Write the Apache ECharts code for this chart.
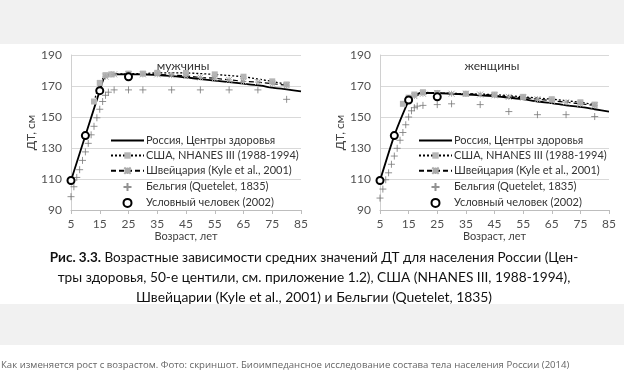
<!DOCTYPE html>
<html><head><meta charset="utf-8">
<script src="https://cdn.jsdelivr.net/npm/echarts@6/dist/echarts.min.js"></script>
<style>html,body{margin:0;padding:0;background:#fff}#c{width:624px;height:372px}</style>
</head><body><div id="c"></div>
<script>
// ---- data (age, ДТ cm) ----
const xTicks = [5, 15, 25, 35, 45, 55, 65, 75, 85];
const yTicks = [90, 110, 130, 150, 170, 190];
const seriesNames = ['Россия, Центры здоровья', 'США, NHANES III (1988-1994)', 'Швейцария (Kyle et al., 2001)', 'Бельгия (Quetelet, 1835)', 'Условный человек (2002)'];

const menRussia = [[5,109],[10,138],[15,167],[16,173],[17,177],[18,177.5],[20,177.5],[25,177.5],[30,177.5],[35,177],[40,176.5],[45,175.5],[50,174.5],[55,173.5],[60,172.5],[65,171.5],[70,170.5],[75,169],[80,167.8],[85,166.5]];
const menUSA = [[13,160],[15,172],[17,177],[19,177.5],[25,178],[30,178],[35,178.5],[45,178.5],[55,177.5],[65,176],[75,173],[80,171]];
const menSwiss = [[17,176],[20,177.5],[25,177.5],[30,177.5],[35,177.5],[40,177],[45,176.5],[50,175.5],[55,175],[60,174],[65,173],[70,172.5],[75,171.5],[80,170.5]];
const menBelgium = [[5,98.6],[6,105],[7,111],[8,116],[9,122],[10,127.5],[11,133],[12,138.5],[13,144],[14,149.5],[15,155],[16,160],[17,164],[18,166],[20,167.5],[25,167.5],[30,167.5],[40,167.5],[50,167.5],[60,167.5],[70,167.5],[80,161.4]];
const menRef = [[5,109],[10,138],[15,167],[25,176]];

const womenRussia = [[5,109],[10,138],[15,160.5],[16,163],[18,165],[20,165.5],[25,165.5],[30,165],[35,164.5],[40,164],[45,163.5],[50,162.5],[55,161.5],[60,160],[65,159],[70,157.5],[75,156.5],[80,155],[85,153.5]];
const womenUSA = [[13,158.5],[15,162.5],[17,164.5],[20,166],[25,165.5],[35,165],[45,164.5],[55,163],[65,161.5],[75,159.5],[80,158]];
const womenSwiss = [[17,163.5],[20,165],[25,165.5],[30,165],[35,165],[40,164.5],[45,164],[50,163],[55,162.5],[60,161.5],[65,160.5],[70,159.5],[75,158.5],[80,157.5]];
const womenBelgium = [[5,97.7],[6,103.5],[7,109.5],[8,114],[9,119.5],[10,124.8],[11,129.8],[12,135],[13,140],[14,145],[15,150],[16,154],[17,156],[18,157],[20,157.5],[25,158],[30,158.5],[40,158],[50,153.5],[60,151.5],[70,151.5],[80,150.3]];
const womenRef = [[5,109],[10,138],[15,161],[25,163]];

const panelTitles = ['мужчины', 'женщины'];
const axisNameX = 'Возраст, лет';
const axisNameY = 'ДТ, см';
const captionBold = 'Рис. 3.3.';
const captionLines = [' Возрастные зависимости средних значений ДТ для населения России (Цен-',
  'тры здоровья, 50-е центили, см. приложение 1.2), США (NHANES III, 1988-1994),',
  'Швейцарии (Kyle et al., 2001) и Бельгии (Quetelet, 1835)'];
const photoCaption = 'Как изменяется рост с возрастом. Фото: скриншот. Биоимпедансное исследование состава тела населения России (2014)';

// ---- chart ----
const FONT = 'Lato, "Open Sans", sans-serif';
const starPath = 'path://M0,0L10,10M10,0L0,10M5,0L5,10M0,5L10,5';
const plusPath = 'path://M5,0L5,10M0,5L10,5';

function panelSeries(i, ru, us, sw, be, ref) {
  return [
    {name: seriesNames[0], type: 'line', xAxisIndex: i, yAxisIndex: i, data: ru, showSymbol: false, symbol: 'none', smooth: 0.2,
      lineStyle: {color: '#000', width: 1.8}, itemStyle: {color: '#000'}, z: 3},
    {name: seriesNames[1], type: 'line', xAxisIndex: i, yAxisIndex: i, data: us, symbol: 'rect', symbolSize: 6,
      lineStyle: {color: '#000', width: 1.3, type: [2, 2]}, itemStyle: {color: '#b5b5b5'}, z: 4},
    {name: seriesNames[2], type: 'line', xAxisIndex: i, yAxisIndex: i, data: sw, symbol: starPath, symbolSize: 6,
      lineStyle: {color: '#000', width: 1.2, type: [5, 3]}, itemStyle: {color: 'none', borderColor: '#aaa', borderWidth: 1}, z: 4},
    {name: seriesNames[3], type: 'scatter', xAxisIndex: i, yAxisIndex: i, data: be, symbol: plusPath, symbolSize: 7,
      itemStyle: {color: 'none', borderColor: '#777', borderWidth: 1}, z: 2},
    {name: seriesNames[4], type: 'scatter', xAxisIndex: i, yAxisIndex: i, data: ref, symbol: 'circle', symbolSize: 7,
      itemStyle: {color: '#ffffff', borderColor: '#000000', borderWidth: 2, opacity: 1}, z: 6}
  ];
}

function xAxis(i) {
  return {type: 'value', gridIndex: i, min: xTicks[0], max: xTicks[xTicks.length - 1], interval: 10,
    name: axisNameX, nameLocation: 'middle', nameGap: 19, nameTextStyle: {fontFamily: FONT, fontSize: 11, color: '#404040'},
    axisLine: {show: true, lineStyle: {color: '#bdbdbd', width: 1}},
    axisTick: {show: true, length: 4, lineStyle: {color: '#bdbdbd'}},
    axisLabel: {fontFamily: FONT, fontSize: 12, color: '#505050', margin: 8},
    splitLine: {show: false}};
}
function yAxis(i) {
  return {type: 'value', gridIndex: i, min: yTicks[0], max: yTicks[yTicks.length - 1], interval: 20,
    name: axisNameY, nameLocation: 'middle', nameGap: 32, nameRotate: 90, nameTextStyle: {fontFamily: FONT, fontSize: 12, color: '#404040'},
    axisLine: {show: true, lineStyle: {color: '#d0d0d0', width: 1}},
    axisTick: {show: false},
    axisLabel: {fontFamily: FONT, fontSize: 12, color: '#505050', margin: 9},
    splitLine: {show: true, lineStyle: {color: '#d9d9d9', width: 1}}};
}
function legend(left) {
  const data = seriesNames.map((n, k) => k === 0
    ? {name: n, itemStyle: {color: 'rgba(0,0,0,0)', borderWidth: 0, opacity: 0}}
    : {name: n});
  return {data: data, orient: 'vertical', left: left, top: 135, padding: 0, itemWidth: 33, itemHeight: 8, itemGap: 4,
    textStyle: {fontFamily: FONT, fontSize: 11, lineHeight: 11, color: '#333', padding: [0, 0, 0, -3]}, selectedMode: false};
}

const chart = echarts.init(document.getElementById('c'), null, {renderer: 'canvas'});
chart.setOption({
  animation: false,
  backgroundColor: '#fff',
  title: [
    {text: panelTitles[0], left: 178, top: 55, textAlign: 'center', textStyle: {fontFamily: FONT, fontSize: 12, fontWeight: 'normal', color: '#333'}},
    {text: panelTitles[1], left: 487, top: 55, textAlign: 'center', textStyle: {fontFamily: FONT, fontSize: 12, fontWeight: 'normal', color: '#333'}}
  ],
  grid: [
    {left: 71, right: 323, top: 55, bottom: 162},
    {left: 380, right: 15, top: 55, bottom: 162}
  ],
  xAxis: [xAxis(0), xAxis(1)],
  yAxis: [yAxis(0), yAxis(1)],
  legend: [legend(110), legend(418)],
  series: [].concat(
    panelSeries(0, menRussia, menUSA, menSwiss, menBelgium, menRef),
    panelSeries(1, womenRussia, womenUSA, womenSwiss, womenBelgium, womenRef)
  ),
  graphic: [
    {type: 'rect', left: 0, top: 0, z: -10, shape: {width: 624, height: 44}, style: {fill: '#f1f1f1'}},
    {type: 'rect', left: 0, top: 304, z: -10, shape: {width: 624, height: 41}, style: {fill: '#f1f1f1'}},
    {type: 'text', x: 314, y: 258, style: {text: '{b|' + captionBold + '}' + captionLines[0], align: 'center', verticalAlign: 'middle',
      font: '13.5px ' + FONT, fill: '#111', rich: {b: {fontFamily: FONT, fontSize: 13.5, fontWeight: 'bold', fill: '#111'}}}},
    {type: 'text', x: 314, y: 278, style: {text: captionLines[1], align: 'center', verticalAlign: 'middle', font: '13.7px ' + FONT, fill: '#111'}},
    {type: 'text', x: 314, y: 298, style: {text: captionLines[2], align: 'center', verticalAlign: 'middle', font: '13.9px ' + FONT, fill: '#111'}},
    {type: 'text', x: 1, y: 365, style: {text: photoCaption, align: 'left', verticalAlign: 'middle', font: '9.6px "Open Sans", sans-serif', fill: '#666'}}
  ]
});
</script></body></html>
